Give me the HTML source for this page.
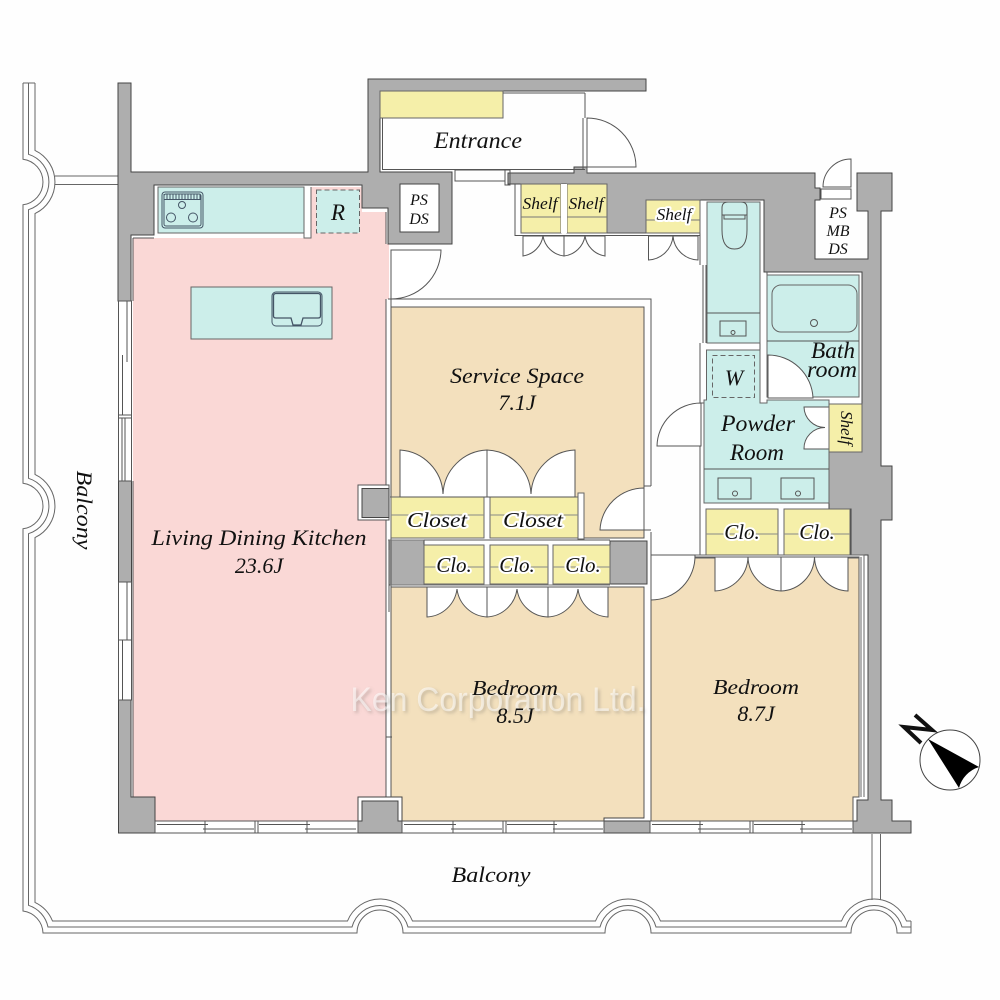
<!DOCTYPE html>
<html><head><meta charset="utf-8"><style>
html,body{margin:0;padding:0;background:#fefefe}
svg{display:block}
text{font-family:"Liberation Serif",serif;font-style:italic;fill:#111;text-anchor:middle}
.h{paint-order:stroke;stroke:#fff;stroke-width:4px;stroke-linejoin:round}
.l{fill:none;stroke:#555;stroke-width:1}
.d{fill:#fff;stroke:#555;stroke-width:1}
.w{fill:#aeaeae;stroke:#444;stroke-width:1}
.t{fill:#cceeea;stroke:#666;stroke-width:1}
.y{fill:#f5efa9;stroke:#666;stroke-width:1}
.win{fill:#fff;stroke:#555;stroke-width:1}
</style></head><body>
<svg width="1000" height="1000" viewBox="0 0 1000 1000" xmlns="http://www.w3.org/2000/svg">
<defs><filter id="b" x="-5%" y="-30%" width="110%" height="160%"><feGaussianBlur stdDeviation="1.5"/></filter></defs>
<rect width="1000" height="1000" fill="#fefefe"/>

<!-- balcony rail -->
<g fill="none" stroke="#666" stroke-width="1">
<path d="M23,83 V159.2 A23,23 0 0 1 23,204.8 V483.2 A23,23 0 0 1 23,528.8 V911 A23,23 0 0 1 43,933 H357 A23,23 0 0 1 403,933 H605 A23,23 0 0 1 651,933 H851 A23,23 0 0 1 897,933 H911 V921"/>
<path d="M28.5,83 V154.3 A29,29 0 0 1 28.5,209.7 V478.3 A29,29 0 0 1 28.5,533.7 V905.3 A29,29 0 0 1 48,927 H352 A29,29 0 0 1 408,927 H600 A29,29 0 0 1 656,927 H846 A29,29 0 0 1 902,927 H911"/>
<path d="M35,83 V150.4 A35,35 0 0 1 35,213.6 V474.4 A35,35 0 0 1 35,537.6 V902.4 A35,35 0 0 1 52.5,921 H347.5 A35,35 0 0 1 412.5,921 H595.5 A35,35 0 0 1 660.5,921 H841.5 A35,35 0 0 1 906.5,921 H911"/>
<path d="M23,83 H35"/>
<path d="M55,176 H118 M55,184.500 H118"/>
<path d="M872,834 V900 M880.500,834 V900"/>
</g>

<!-- floors -->
<path d="M133,238 H304 V187 H362 V212 H386 V244 H389 V299 H386 V797 H358 V821 H155 V797 H133 Z" fill="#fad8d6"/>
<path d="M391,307 H644 V538 H583 V497 H391 Z" fill="#f3e0bd" stroke="#555"/>
<path d="M391,587 H644 V818 H604 V821 H402 V797 H391 Z" fill="#f3e0bd" stroke="#555"/>
<path d="M651,557 H859 V797 H853 V821 H651 Z" fill="#f3e0bd" stroke="#555"/>
<path d="M133,238 H154 M133,238 V301 M133,481 V700 M133,700 V797 H155 V821 H358 V797 H386 V299 M386,244 V212" class="l"/>
<path d="M304,187 V238 H311 V187" fill="#fff" stroke="#666"/>

<!-- walls -->
<path class="w" d="M118,83 H131 V172 H368 V79 H646 V91 H380 V172 H452 V244 H388 V208 H362 V185 H154 V235 H131 V301 H118 Z"/>
<rect x="400" y="184" width="39" height="48" fill="#fff" stroke="#444"/>
<path class="w" d="M508,173 H574 V167 H587 V173 H815 V188 H820 V200 H815 V259 H868 V211 H857 V173 H892 V211 H881 V466 H892 V520 H881 V800 H892 V821 H911 V833 H853 V821 H857 V800 H868 V555 H851 V509 H829 V404 H862 V272 H764 V200 H646 V233 H607 V184 H508 Z"/>
<rect x="118.500" y="481" width="13" height="101" class="w"/>
<path class="w" d="M118.500,700 H131 V797 H155 V833 H118.500 Z"/>
<path d="M358,821 V797 H402 V821" fill="#fff" stroke="#444"/>
<path class="w" d="M362,801 H398 V821 H402 V833 H358 V821 H362 Z"/>
<path d="M604,821 V818 H644" fill="none" stroke="#444"/>
<rect x="604" y="821" width="46" height="12" class="w"/>
<path d="M358,520 V485 H389 V520 Z" fill="#fff" stroke="#555"/>
<rect x="362" y="488.500" width="27" height="29" class="w"/>
<rect x="389" y="540" width="35" height="45" class="w"/>
<rect x="610" y="541" width="37" height="43" class="w"/>

<!-- windows west -->
<g>
<rect x="118.500" y="301" width="13" height="180" class="win"/>
<path class="l" d="M118.500,415 H131.500 M118.500,418 H131.500 M127,301 V362 M122.500,355 V415 M122,418 V481 M125,418 V481"/>
<rect x="118.500" y="582" width="13" height="118" class="win"/>
<path class="l" d="M118.500,640 H131.500 M127,582 V640 M122.500,640 V700"/>
</g>
<!-- windows south -->
<g>
<rect x="155" y="821" width="203" height="12" class="win"/>
<path class="l" d="M157,824.500 H208 M203,829 H254 M255,821 V833 M258,821 V833 M259,824.500 H310 M305,829 H356 M205,821 V833 M307,821 V833"/>
<rect x="402" y="821" width="202" height="12" class="win"/>
<path class="l" d="M404,824.500 H456 M451,829 H502 M503,821 V833 M506,821 V833 M507,824.500 H557 M553,829 H603 M453,821 V833 M554,821 V833"/>
<rect x="650" y="821" width="203" height="12" class="win"/>
<path class="l" d="M652,824.500 H703 M698,829 H749 M750,821 V833 M753,821 V833 M754,824.500 H805 M800,829 H852 M700,821 V833 M802,821 V833"/>
</g>

<!-- interior wall lines -->
<path class="l" d="M391,299 V250 M388,299 H651 V486 M651,532 V555 H696 M700,555 H706 M700,200 V265 M700,343 V403 M700,446 V555 M703,265 V343 M706,265 V343 M391,299 V797"/>
<path class="l" d="M386,550 V612 M389,550 V612 M386,737 H392"/>
<path class="l" d="M644,486 H651 M644,530 H651 M390,497 H578 V538 M583,497 V538 H644 M424,540 H610 M424,585 H610 M397,587 H644"/>
<rect x="578" y="493" width="6" height="46" fill="#fff" stroke="#666"/>
<path class="l" d="M760,272 V403 M767,272 V397 M760,403 H700"/>

<!-- entrance -->
<rect x="380" y="91" width="123" height="27" class="y"/>
<path class="l" d="M382.500,118 V169.500 H585 M503,93 H585 M585,93 V118 M583,118 V169 M587,118 V173"/>
<path class="l" d="M455,170 V181 H505 M455,170 H505 M505,170 H510 V185 H505 Z"/>
<path class="d" d="M587,118 A49,49 0 0 1 636,167 H587 Z"/>

<!-- kitchen -->
<rect x="158" y="187" width="146" height="46" class="t"/>
<rect x="316.500" y="190" width="43" height="43" fill="#cceeea" stroke="#666" stroke-dasharray="5 3"/>
<rect x="191" y="287" width="141" height="52" class="t"/>
<g fill="none" stroke="#456" stroke-width="1">
<rect x="162" y="192" width="41" height="36" rx="3"/>
<rect x="164" y="194" width="37" height="32" rx="2"/>
<path d="M164,199.500 H201 M164,194 V199 M167,194 V199 M170,194 V199 M173,194 V199 M176,194 V199 M179,194 V199 M182,194 V199 M185,194 V199 M188,194 V199 M191,194 V199 M194,194 V199 M197,194 V199 M200,194 V199"/>
<circle cx="182" cy="205" r="3.500"/>
<circle cx="171" cy="217.500" r="4.500"/>
<circle cx="193" cy="217.500" r="4.500"/>
<rect x="272" y="292" width="50" height="34" rx="4"/>
<path d="M273.500,296 Q273.500,293.500 276,293.500 H318 Q320.500,293.500 320.500,296 V316 Q320.500,318 318,318 H303 L301,325 H293 L291,318 H276 Q273.500,318 273.500,316 Z" stroke-width="1.300"/>
</g>

<!-- door LDK -->
<path class="d" d="M391,250 H441 A50,50 0 0 1 391,299 Z"/>

<!-- shelves top -->
<rect x="521" y="184" width="40" height="49" class="y"/>
<rect x="567" y="184" width="40" height="49" class="y"/>
<rect x="561" y="184" width="6" height="49" fill="#fff"/>
<rect x="646" y="200" width="54" height="33" class="y"/>
<path d="M521,217 H561 M567,217 H607 M646,220 H700" stroke="#777" fill="none"/>
<path class="l" d="M515,184 V235.500 H521 M607,233 H646 M521,235.500 H700"/>
<path class="d" d="M523,236 V256 A24,24 0 0 0 543,236 A24,24 0 0 0 564,256 V236 Z"/>
<path class="d" d="M564,256 A24,24 0 0 0 585,236 A24,24 0 0 0 605,256 V236 H564 Z"/>
<path class="d" d="M648.500,236 V260 A26,26 0 0 0 673,236 A26,26 0 0 0 698,260 V236 Z"/>

<!-- toilet / wash -->
<rect x="707" y="202" width="53" height="141" class="t"/>
<path class="l" d="M707,313 H760"/>
<rect x="720" y="321" width="26" height="15" class="l"/>
<circle cx="733" cy="332.500" r="2" class="l"/>
<path class="l" d="M722,208 Q722,202 728,202 H741 Q747,202 747,208 V230 Q747,249 734.500,249 Q722,249 722,230 Z M722,215 H747 M724,215 V219 H745 V215"/>

<!-- bath -->
<rect x="767" y="275" width="92" height="122" class="t"/>
<rect x="772" y="285" width="85" height="47" rx="9" fill="none" stroke="#666"/>
<circle cx="814" cy="323" r="3.500" class="l"/>
<path class="l" d="M767,341 H859"/>
<path class="d" d="M768,355 A45,45 0 0 1 813,398 H768 Z"/>

<!-- powder -->
<path class="t" d="M706.500,350 H760 V403 H767 V400 H829 V503 H704 V400 H706.500 Z" stroke="#666"/>
<rect x="712.500" y="355.500" width="42" height="42" fill="none" stroke="#666" stroke-dasharray="5 3"/>
<path class="l" d="M704,469 H829"/>
<rect x="718" y="478" width="33" height="21" class="l"/>
<rect x="781" y="478" width="33" height="21" class="l"/>
<circle cx="735" cy="493.500" r="2.500" class="l"/>
<circle cx="798" cy="493.500" r="2.500" class="l"/>
<path class="d" d="M804,407 H829 V449 H804 A21,21 0 0 1 825,427.500 A21,21 0 0 1 804,407 Z"/>
<rect x="829" y="404" width="33" height="48" class="y"/>
<path class="d" d="M701,403 A44,44 0 0 0 657,446 H701 Z"/>

<!-- PS door -->
<path d="M821,189 H851 V199 H821 Z" fill="#fff" stroke="#555"/>
<path class="d" d="M851,159 A28,28 0 0 0 823,187 H851 Z"/>

<!-- closets -->
<rect x="391" y="497" width="93" height="41" class="y"/>
<rect x="490" y="497" width="88" height="41" class="y"/>
<path d="M391,515 H484 M490,515 H578" stroke="#888" fill="none"/>
<rect x="424" y="545" width="60" height="39" class="y"/>
<rect x="490" y="545" width="58" height="39" class="y"/>
<rect x="553" y="545" width="57" height="39" class="y"/>
<path d="M424,567 H484 M490,567 H548 M553,567 H610" stroke="#888" fill="none"/>
<rect x="706" y="509" width="72" height="46" class="y"/>
<rect x="784" y="509" width="66" height="46" class="y"/>
<path d="M706,534 H778 M784,534 H850" stroke="#888" fill="none"/>
<path d="M390,585 H610 M388,540 H424" stroke="#777" stroke-width="1" fill="none"/>
<path d="M651,555 H864 V797 M651,558 H859 M861,557 V797" stroke="#666" fill="none"/>

<!-- closet doors -->
<path class="d" d="M400,497 V450 A46,46 0 0 1 443,494 A46,46 0 0 1 487,450 V497 Z"/>
<path class="d" d="M487,497 V450 A46,46 0 0 1 531,494 A46,46 0 0 1 575,450 V497 Z"/>
<path class="d" d="M427,587 V617 A32,32 0 0 0 457,589 A32,32 0 0 0 487,617 V587 Z"/>
<path class="d" d="M487,587 V617 A32,32 0 0 0 517,589 A32,32 0 0 0 548,617 V587 Z"/>
<path class="d" d="M548,587 V617 A32,32 0 0 0 578,589 A32,32 0 0 0 608,617 V587 Z"/>
<path class="d" d="M715,557 V591 A35,35 0 0 0 748,557 A35,35 0 0 0 781,591 V557 Z"/>
<path class="d" d="M781,557 V591 A35,35 0 0 0 814.500,557 A35,35 0 0 0 848,591 V557 Z"/>
<path class="d" d="M644,488 A44,44 0 0 0 600,530 H644 Z"/>
<path class="d" d="M651,557 V600 A44,44 0 0 0 695,555 H651 Z"/>

<!-- watermark -->
<text x="500" y="713" font-size="34" textLength="295" lengthAdjust="spacingAndGlyphs" filter="url(#b)" style="font-family:'Liberation Sans',sans-serif;font-style:normal;fill:#6f6a60;fill-opacity:.35">Ken Corporation Ltd.</text>
<text x="498" y="711" font-size="34" textLength="295" lengthAdjust="spacingAndGlyphs" style="font-family:'Liberation Sans',sans-serif;font-style:normal;fill:#ffffff;fill-opacity:.55">Ken Corporation Ltd.</text>

<!-- labels -->
<text x="478" y="148" font-size="23" textLength="88" lengthAdjust="spacingAndGlyphs">Entrance</text>
<text x="338" y="220" font-size="23">R</text>
<text x="419" y="205" font-size="16">PS</text>
<text x="419" y="224" font-size="16">DS</text>
<text x="259" y="545" font-size="22" textLength="215" lengthAdjust="spacingAndGlyphs">Living Dining Kitchen</text>
<text x="259" y="573" font-size="22">23.6J</text>
<text x="517" y="383" font-size="22" textLength="134" lengthAdjust="spacingAndGlyphs">Service Space</text>
<text x="517" y="410" font-size="22">7.1J</text>
<text x="515" y="695" font-size="21" textLength="86" lengthAdjust="spacingAndGlyphs">Bedroom</text>
<text x="515" y="723" font-size="22">8.5J</text>
<text x="756" y="694" font-size="21" textLength="86" lengthAdjust="spacingAndGlyphs">Bedroom</text>
<text x="756" y="721" font-size="22">8.7J</text>
<text x="491" y="882" font-size="22" textLength="79" lengthAdjust="spacingAndGlyphs">Balcony</text>
<text transform="translate(77,510) rotate(90)" font-size="22" textLength="79" lengthAdjust="spacingAndGlyphs">Balcony</text>
<text x="437" y="527" font-size="21" class="h" textLength="60" lengthAdjust="spacingAndGlyphs">Closet</text>
<text x="533" y="527" font-size="21" class="h" textLength="60" lengthAdjust="spacingAndGlyphs">Closet</text>
<text x="454" y="572" font-size="21" class="h">Clo.</text>
<text x="517" y="572" font-size="21" class="h">Clo.</text>
<text x="583" y="572" font-size="21" class="h">Clo.</text>
<text x="742" y="539" font-size="21" class="h">Clo.</text>
<text x="817" y="539" font-size="21" class="h">Clo.</text>
<text x="540" y="209" font-size="17" textLength="35" lengthAdjust="spacingAndGlyphs">Shelf</text>
<text x="586" y="209" font-size="17" textLength="35" lengthAdjust="spacingAndGlyphs">Shelf</text>
<text x="674" y="220" font-size="17" class="h" textLength="35" lengthAdjust="spacingAndGlyphs">Shelf</text>
<text transform="translate(841,428) rotate(90)" font-size="17">Shelf</text>
<text x="838" y="218" font-size="16">PS</text>
<text x="838" y="236" font-size="16">MB</text>
<text x="838" y="254" font-size="16">DS</text>
<text x="833" y="358" font-size="23" textLength="44" lengthAdjust="spacingAndGlyphs">Bath</text>
<text x="832" y="377" font-size="23" textLength="50" lengthAdjust="spacingAndGlyphs">room</text>
<text x="734" y="385" font-size="22">W</text>
<text x="758" y="431" font-size="23" textLength="74" lengthAdjust="spacingAndGlyphs">Powder</text>
<text x="757" y="460" font-size="23" textLength="54" lengthAdjust="spacingAndGlyphs">Room</text>

<!-- north -->
<circle cx="950" cy="760" r="30" fill="#fff" stroke="#444"/>
<path d="M928,739 L979,767 A30,30 0 0 0 959,788 Z" fill="#000"/>
<path d="M915,715 L932,730 L904,727 L921,743" fill="none" stroke="#111" stroke-width="4"/>
</svg>
</body></html>
